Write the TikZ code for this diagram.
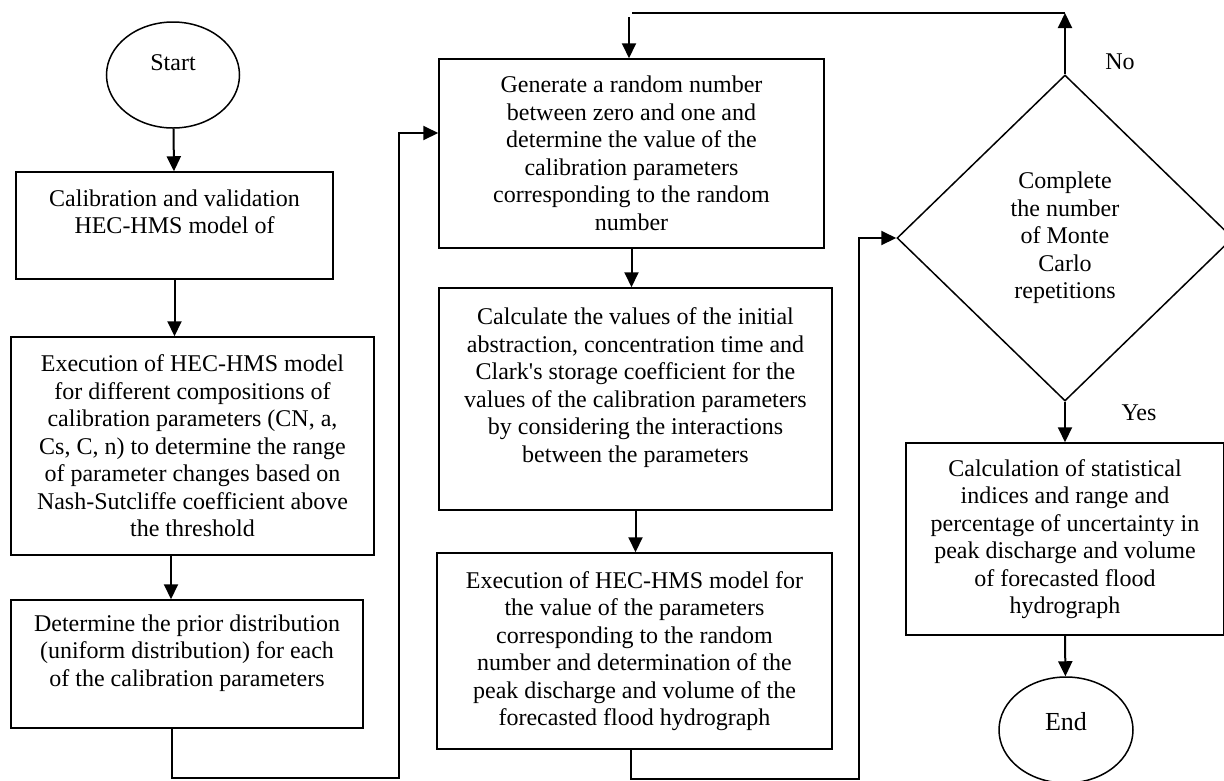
\documentclass[tikz,border=0pt]{standalone}
\usepackage{fontspec}
\newfontfamily\flowfont{Liberation Serif}
\usetikzlibrary{shapes.geometric,arrows.meta}
\tikzset{
  procbox/.style={draw,line width=1.5pt,align=center,inner sep=0pt,font=\flowfont\fontsize{24}{27.5}\selectfont},
  termnode/.style={draw,ellipse,line width=1.5pt,inner sep=0pt,minimum width=133pt,minimum height=106pt,font=\flowfont\fontsize{24}{27.5}\selectfont},
  decnode/.style={draw,diamond,line width=1.5pt,inner sep=0pt,align=center,font=\flowfont\fontsize{24}{27.5}\selectfont},
  flowarrow/.style={line width=2pt,-{Triangle[length=15pt,width=14pt]}},
  flowline/.style={line width=2pt}
}
\begin{document}
\begin{tikzpicture}[x=1pt,y=-1pt]
                    \useasboundingbox (0,0) rectangle (1224,780);
                    % left column
                    \node[termnode] (start) at (173,75) {\raisebox{12pt}[\height][\depth]{Start}};
                    \node[procbox,minimum width=317pt,minimum height=107pt] (calib) at (174.5,225.5) {Calibration and validation\\HEC-HMS model of\\~};
                    \node[procbox,minimum width=363pt,minimum height=218pt] (runs) at (192.5,446) {Execution of HEC-HMS model\\for different compositions of\\calibration parameters (CN, a,\\Cs, C, n) to determine the range\\of parameter changes based on\\Nash-Sutcliffe coefficient above\\the threshold};
                    \node[procbox,minimum width=352pt,minimum height=128pt] (prior) at (187,664) {Determine the prior distribution\\(uniform distribution) for each\\of the calibration parameters\\~};
                    % middle column
                    \node[procbox,minimum width=385pt,minimum height=189pt] (rand) at (631.5,153.5) {Generate a random number\\between zero and one and\\determine the value of the\\calibration parameters\\corresponding to the random\\number};
                    \node[procbox,minimum width=393pt,minimum height=222pt] (calc) at (635.5,399) {Calculate the values of the initial\\abstraction, concentration time and\\Clark's storage coefficient for the\\values of the calibration parameters\\by considering the interactions\\between the parameters\\~};
                    \node[procbox,minimum width=395pt,minimum height=196pt] (exec) at (634.5,651) {Execution of HEC-HMS model for\\the value of the parameters\\corresponding to the random\\number and determination of the\\peak discharge and volume of the\\forecasted flood hydrograph};
                    % right column
                    \node[decnode,minimum width=336pt,minimum height=326pt] (mc) at (1065,238) {Complete\\the number\\of Monte\\Carlo\\repetitions};
                    \node[procbox,minimum width=318pt,minimum height=192pt] (stats) at (1065,539) {Calculation of statistical\\indices and range and\\percentage of uncertainty in\\peak discharge and volume\\of forecasted flood\\hydrograph};
                    \node[termnode,minimum width=134pt,font=\flowfont\fontsize{26}{28}\selectfont] (end) at (1066,730) {\raisebox{8pt}[\height][\depth]{End}};
                    \node[font=\flowfont\fontsize{24}{27.5}\selectfont] (nolbl) at (1120,62) {No};
                    \node[font=\flowfont\fontsize{24}{27.5}\selectfont] (yeslbl) at (1139,413) {Yes};
                    % bends of the loops
                    \coordinate (loopl) at (399,778);
                    \coordinate (loopr) at (859,779);
                    \coordinate (back) at (1065,13);
                    % connectors
                    \draw[flowarrow] (start) -- (calib);
                    \draw[flowarrow] (calib.south) -- (calib.south |- runs.north);
                    \draw[flowarrow] (runs.south -| 171,0) -- (prior.north -| 171,0);
                    \draw[flowarrow] (prior.south -| 172,0) |- (loopl) |- (rand.west |- 0,133);
                    \draw[flowarrow] (rand.south) -- (rand.south |- calc.north);
                    \draw[flowarrow] (calc.south) -- (calc.south |- exec.north);
                    \draw[flowarrow] (exec.south -| 631,0) |- (loopr) |- (mc.west);
                    \draw[flowarrow] (mc.north) -- (back);
                    \draw[flowline] (back) -- (back -| 632,0);
                    \draw[flowarrow] (629,17) -- (rand.north -| 629,0);
                    \draw[flowarrow] (mc.south) -- (stats.north);
                    \draw[flowarrow] (stats.south) -- (end);
                \end{tikzpicture}
\end{document}
